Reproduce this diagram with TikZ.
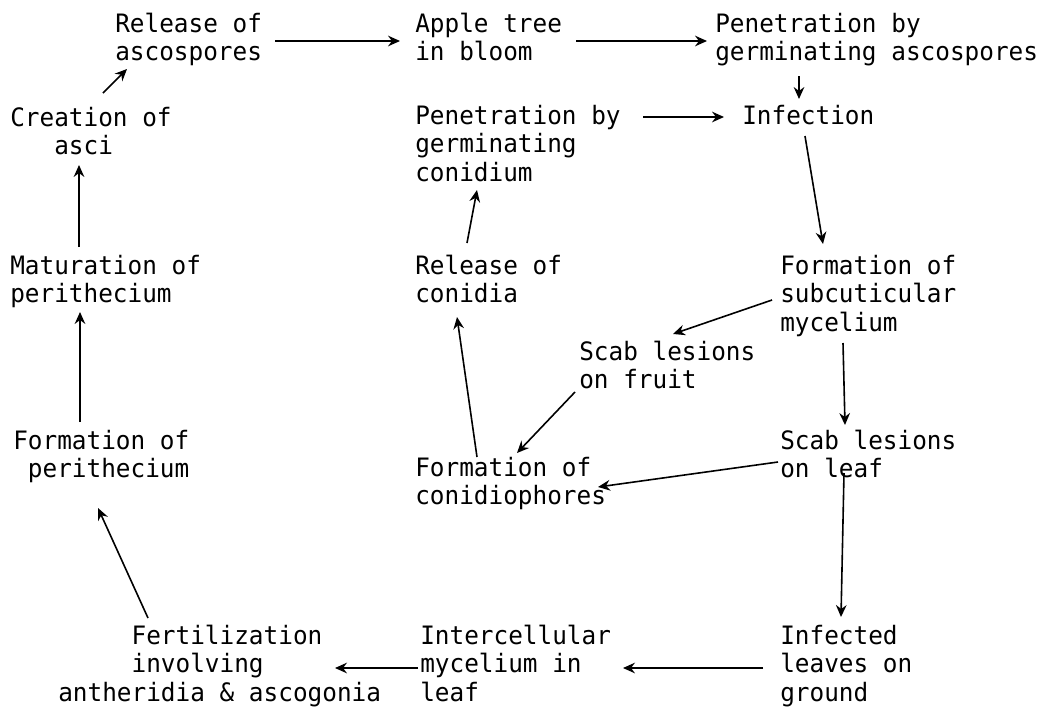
\documentclass[tikz,border=0pt]{standalone}
\usepackage{fontspec}
\usetikzlibrary{arrows.meta}
\newfontfamily\typewriter{DejaVu Sans Mono}[FakeStretch=0.962]
% stacked lines whose baseline is that of the first line
\newcommand{\stagelines}[1]{\begin{tabular}[t]{@{}l@{}}#1\end{tabular}}
\begin{document}
\begin{tikzpicture}[x=0.75pt,y=-0.75pt,
  stage/.style={anchor=base west,inner sep=0pt,
    font={\typewriter\fontsize{19pt}{21.4pt}\selectfont}},
  flow/.style={line width=1.2pt,-{Stealth[length=9pt,width=8pt,inset=3pt]}}]
\useasboundingbox (0,0) rectangle (1049,714);

% stages of the cycle
\node[stage] (relasc)    at (115,32)  {\stagelines{Release of\\ascospores}};
\node[stage] (apple)     at (415,32)  {\stagelines{Apple tree\\in bloom}};
\node[stage] (penasc)    at (715,32)  {\stagelines{Penetration by\\germinating ascospores}};
\node[stage] (creation)  at (10,126)  {\stagelines{Creation of\\\hphantom{Cre}asci}};
\node[stage] (pencon)    at (415,124) {\stagelines{Penetration by\\germinating\\conidium}};
\node[stage] (infection) at (742,124) {\stagelines{Infection}};
\node[stage] (matur)     at (10,274)  {\stagelines{Maturation of\\perithecium}};
\node[stage] (relcon)    at (415,274) {\stagelines{Release of\\conidia}};
\node[stage] (formsub)   at (780,274) {\stagelines{Formation of\\subcuticular\\mycelium}};
\node[stage] (scabfruit) at (579,360) {\stagelines{Scab lesions\\on fruit}};
\node[stage] (formper)   at (13,449)  {\stagelines{Formation of\\\hphantom{F}perithecium}};
\node[stage] (scableaf)  at (780,449) {\stagelines{Scab lesions\\on leaf}};
\node[stage] (formcon)   at (415,476) {\stagelines{Formation of\\conidiophores}};
\node[stage] (fert)      at (58,644)  {\stagelines{\hphantom{Ferti}Fertilization\\\hphantom{Ferti}involving\\antheridia \& ascogonia}};
\node[stage] (inter)     at (420,644) {\stagelines{Intercellular\\mycelium in\\leaf}};
\node[stage] (infected)  at (780,644) {\stagelines{Infected\\leaves on\\ground}};

% connectors
\draw[flow] ([shift={(160,9)}]relasc.base west) -- ([shift={(-15,9)}]apple.base west);
\draw[flow] ([shift={(161,9)}]apple.base west) -- ([shift={(-8,9)}]penasc.base west);
\draw[flow] ([shift={(84,44)}]penasc.base west) -- ([shift={(57,-25)}]infection.base west);
\draw[flow] ([shift={(228,-7)}]pencon.base west) -- ([shift={(-18,-7)}]infection.base west);
\draw[flow] ([shift={(63,12)}]infection.base west) -- ([shift={(43,-30)}]formsub.base west);
\draw[flow] ([shift={(-8,26)}]formsub.base west) -- ([shift={(94,-26)}]scabfruit.base west);
\draw[flow] ([shift={(63,69)}]formsub.base west) -- ([shift={(65,-24)}]scableaf.base west);
\draw[flow] ([shift={(-4,32)}]scabfruit.base west) -- ([shift={(102,-23)}]formcon.base west);
\draw[flow] ([shift={(-2,13)}]scableaf.base west) -- ([shift={(183,11)}]formcon.base west);
\draw[flow] ([shift={(62,-19)}]formcon.base west) -- ([shift={(42,43)}]relcon.base west);
\draw[flow] ([shift={(52,-31)}]relcon.base west) -- ([shift={(62,66)}]pencon.base west);
\draw[flow] ([shift={(64,24)}]scableaf.base west) -- ([shift={(61,-27)}]infected.base west);
\draw[flow] ([shift={(-17,24)}]infected.base west) -- ([shift={(203,24)}]inter.base west);
\draw[flow] ([shift={(-2,24)}]inter.base west) -- ([shift={(277,24)}]fert.base west);
\draw[flow] ([shift={(90,-26)}]fert.base west) -- ([shift={(85,59)}]formper.base west);
\draw[flow] ([shift={(67,-27)}]formper.base west) -- ([shift={(70,38)}]matur.base west);
\draw[flow] ([shift={(69,-27)}]matur.base west) -- ([shift={(69,39)}]creation.base west);
\draw[flow] ([shift={(93,-33)}]creation.base west) -- ([shift={(12,37)}]relasc.base west);
\end{tikzpicture}
\end{document}
